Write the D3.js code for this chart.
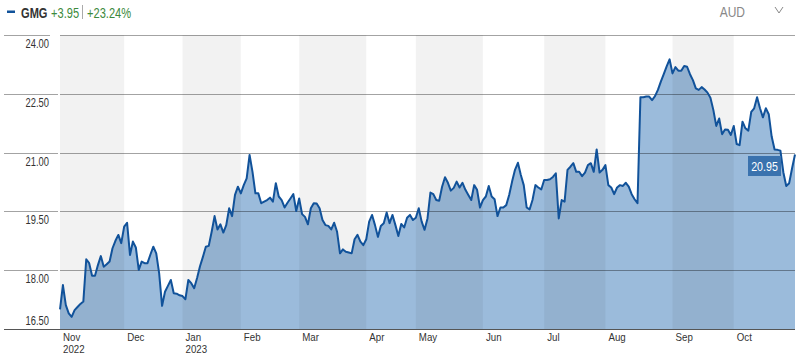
<!DOCTYPE html>
<html>
<head>
<meta charset="utf-8">
<script src="https://cdn.jsdelivr.net/npm/d3@7"></script>
<style>
  body { margin: 0; background: #fff; }
  svg  { display: block; font-family: "Liberation Sans", Arial, sans-serif; }
</style>
</head>
<body>
<svg id="price-chart" width="800" height="355"></svg>
<script>
const ticker    = "GMG";
const changeAbs = "+3.95";
const changePct = "+23.24%";
const currency  = "AUD";

const monthNames = ["Nov", "Dec", "Jan", "Feb", "Mar", "Apr", "May", "Jun", "Jul", "Aug", "Sep", "Oct"];
const monthYears = ["2022", "", "2023", "", "", "", "", "", "", "", "", ""];
const yTicks     = [16.5, 18, 19.5, 21, 22.5, 24];

// daily closes (trading days), one array per month
const nov22 = [17.00, 17.62, 17.11, 16.90, 16.81, 16.98, 17.06, 17.14, 17.20, 18.28, 18.18,
               17.86, 17.86, 18.13, 18.36, 18.09, 18.15, 18.22, 18.56, 18.75, 18.90, 18.69];
const dec22 = [19.11, 19.21, 18.39, 18.73, 18.58, 18.01, 18.22, 18.18, 18.18, 18.40,
               18.60, 18.43, 17.92, 17.09, 17.45, 17.60, 17.75, 17.41, 17.40, 17.36];
const jan23 = [17.34, 17.26, 17.75, 17.67, 17.54, 17.80, 18.10, 18.34, 18.60, 18.62,
               18.98, 19.38, 19.04, 19.17, 18.96, 19.15, 19.58, 19.38, 19.92, 20.13];
const feb23 = [19.96, 20.17, 20.34, 20.94, 20.51, 19.96, 19.96, 19.71, 19.75, 19.79,
               19.85, 19.75, 20.22, 19.88, 19.79, 19.60, 19.72, 19.83, 19.94, 19.51];
const mar23 = [19.83, 19.43, 19.36, 19.17, 19.58, 19.71, 19.70, 19.58, 19.28, 19.15, 19.13, 19.04,
               19.21, 18.98, 18.43, 18.53, 18.47, 18.45, 18.43, 18.79, 18.90, 18.73, 18.64];
const apr23 = [18.79, 19.24, 19.41, 19.15, 18.85, 19.13, 19.20, 19.47, 19.20,
               19.41, 19.15, 18.87, 19.18, 19.09, 19.34, 19.41, 19.28];
const may23 = [19.34, 19.58, 19.24, 19.03, 19.32, 19.98, 19.94, 19.79, 19.77, 20.13, 20.37, 20.23,
               20.03, 20.10, 20.26, 20.11, 20.23, 20.05, 19.92, 19.79, 20.17, 20.05, 19.60];
const jun23 = [19.79, 19.88, 20.15, 19.88, 19.81, 19.38, 19.60, 19.60, 19.66, 19.92, 20.26,
               20.56, 20.74, 20.43, 20.17, 19.60, 19.55, 19.79, 20.17, 20.11, 20.06];
const jul23 = [20.30, 20.30, 20.32, 20.38, 20.47, 19.32, 19.79, 19.75, 20.56, 20.64, 20.73,
               20.51, 20.51, 20.40, 20.49, 20.68, 20.73, 20.51, 21.08, 20.49, 20.56];
const aug23 = [20.68, 20.17, 20.11, 19.94, 20.11, 20.17, 20.15, 20.23, 20.13, 19.94, 19.81, 19.71,
               22.41, 22.41, 22.43, 22.43, 22.34, 22.44, 22.60, 22.81, 23.00, 23.20, 23.38];
const sep23 = [23.02, 23.18, 23.09, 23.09, 23.21, 23.19, 23.00, 22.85, 22.64, 22.60, 22.67,
               22.61, 22.53, 22.40, 22.09, 21.68, 21.87, 21.47, 21.59, 21.58, 21.45];
const oct23 = [21.68, 21.22, 21.19, 21.79, 21.62, 21.56, 22.04, 22.13, 22.41, 22.13, 21.90,
               22.13, 21.98, 21.41, 21.08, 21.07, 21.05, 20.50, 20.15, 20.22, 20.60, 20.95];

const months = [nov22, dec22, jan23, feb23, mar23, apr23, may23, jun23, jul23, aug23, sep23, oct23];

const closes = months.flat();
const monthStarts = [];
months.reduce((acc, m) => { monthStarts.push(acc); return acc + m.length; }, 0);

const svg = d3.select("#price-chart");
const plot = { left: 60, right: 795, top: 35, bottom: 329 };

const x = d3.scaleLinear().domain([0, closes.length - 1]).range([plot.left, plot.right]);
const y = d3.scaleLinear().domain([16.5, 24]).range([plot.bottom, plot.top]);
const crisp = v => Math.round(v) + 0.5;
// no narrow face installed, so squeeze the regular one
const narrow = (px, py, k = 0.82) => `translate(${px},${py}) scale(${k},1)`;

// area under the price
const area = d3.area()
  .x((d, i) => x(i))
  .y0(y(16.5))
  .y1(d => y(d));

svg.append("path")
  .datum(closes)
  .attr("fill", "#9bbbdb")
  .attr("d", area);

// alternating month bands
const bands = monthStarts.map((s, i) => ({
  x0: i === 0 ? plot.left : x(s),
  x1: i + 1 < monthStarts.length ? x(monthStarts[i + 1]) : plot.right
})).filter((d, i) => i % 2 === 0);

svg.append("g").selectAll("rect").data(bands).join("rect")
  .attr("x", d => d.x0)
  .attr("y", plot.top)
  .attr("width", d => d.x1 - d.x0)
  .attr("height", plot.bottom - plot.top)
  .attr("fill", "#000")
  .attr("fill-opacity", 0.052);

// gridlines + y labels
const grid = svg.append("g");
grid.selectAll("line.plot-grid").data(yTicks.slice(1)).join("line")
  .attr("class", "plot-grid")
  .attr("x1", plot.left).attr("x2", plot.right)
  .attr("y1", d => crisp(y(d))).attr("y2", d => crisp(y(d)))
  .attr("stroke", "#000").attr("stroke-opacity", 0.36);

grid.selectAll("line.left-grid").data(yTicks.slice(1)).join("line")
  .attr("class", "left-grid")
  .attr("x1", 4).attr("x2", d => d === 24 ? 50 : 58)
  .attr("y1", d => crisp(y(d))).attr("y2", d => crisp(y(d)))
  .attr("stroke", "#a3a3a3");

grid.selectAll("text").data(yTicks).join("text")
  .attr("transform", d => narrow(49, d === 16.5 ? y(d) - 4 : y(d) + 13, 0.78))
  .attr("text-anchor", "end")
  .attr("font-size", 12)
  .attr("fill", "#333")
  .text(d => d3.format(".2f")(d));

// price line
const line = d3.line()
  .x((d, i) => x(i))
  .y(d => y(d));

svg.append("path")
  .datum(closes)
  .attr("fill", "none")
  .attr("stroke", "#11529a")
  .attr("stroke-width", 2)
  .attr("stroke-linejoin", "round")
  .attr("d", line);

// bottom axis line
svg.append("line")
  .attr("x1", 4).attr("x2", plot.right)
  .attr("y1", crisp(y(16.5))).attr("y2", crisp(y(16.5)))
  .attr("stroke", "#555");

// month labels
const xLabels = svg.append("g").attr("font-size", 10.8).attr("fill", "#333");
xLabels.selectAll("text.month").data(monthNames).join("text")
  .attr("class", "month")
  .attr("transform", (d, i) => narrow(x(monthStarts[i]) + 3, 341, 0.9))
  .text(d => d);
xLabels.selectAll("text.year").data(monthYears).join("text")
  .attr("class", "year")
  .attr("transform", (d, i) => narrow(x(monthStarts[i]) + 3, 353, 0.9))
  .text(d => d);

// last price tag
const last = closes[closes.length - 1];
const tag = svg.append("g").attr("transform", `translate(748, ${Math.round(y(last)) + 1})`);
tag.append("rect")
  .attr("width", 33).attr("height", 20)
  .attr("fill", "#3a72ae");
tag.append("text")
  .attr("transform", narrow(16.5, 14.5, 0.82))
  .attr("text-anchor", "middle")
  .attr("font-size", 13)
  .attr("fill", "#fff")
  .text(d3.format(".2f")(last));

// header
const head = svg.append("g").attr("font-size", 15);
head.append("rect").attr("x", 7).attr("y", 10.5).attr("width", 8).attr("height", 2.5).attr("fill", "#11529a");
head.append("text").attr("transform", narrow(21, 17.5, 0.74)).attr("font-weight", "bold")
  .attr("fill", "#333").text(ticker);
head.append("text").attr("transform", narrow(51, 17.5, 0.74))
  .attr("fill", "#3c8a3c").text(changeAbs);
head.append("line").attr("x1", 82.5).attr("x2", 82.5).attr("y1", 5).attr("y2", 19)
  .attr("stroke", "#aaa");
head.append("text").attr("transform", narrow(87, 17.5, 0.74))
  .attr("fill", "#3c8a3c").text(changePct);

head.append("text").attr("transform", narrow(745, 16.5, 0.8)).attr("text-anchor", "end").attr("font-size", 15)
  .attr("fill", "#888").text(currency);
head.append("path").attr("d", "M775,7 L779,13 L783,7")
  .attr("fill", "none").attr("stroke", "#888").attr("stroke-width", 1);
</script>
</body>
</html>
